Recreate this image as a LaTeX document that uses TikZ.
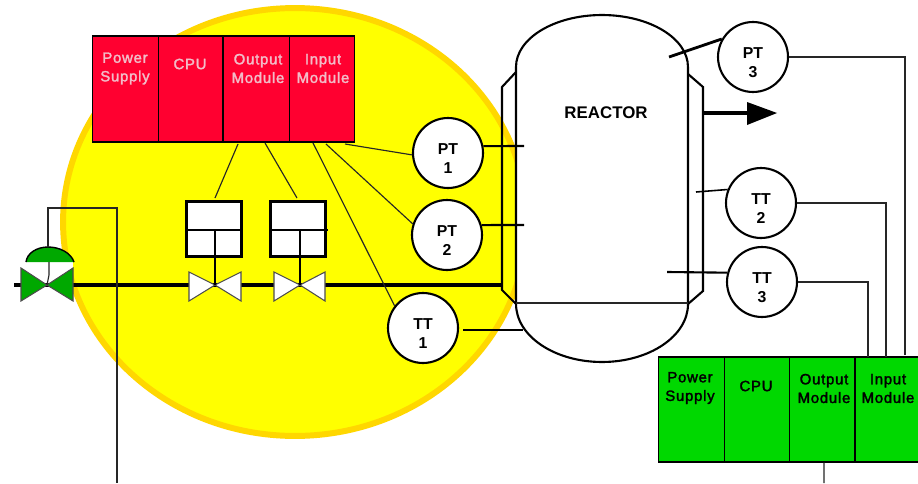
\documentclass[tikz,border=0pt]{standalone}
\usepackage{fontspec}
\usepackage{xcolor}
\usetikzlibrary{calc}
\setmainfont{Liberation Sans}
\newfontfamily\modfont[LetterSpace=5,FakeBold=2]{Liberation Sans}
\definecolor{plcred}{HTML}{FF0030}
\definecolor{plcgreen}{HTML}{00D800}
\definecolor{valvegreen}{HTML}{00A800}
\definecolor{halo}{HTML}{FFD700}
\definecolor{sunyellow}{HTML}{FFFF00}
\definecolor{pinktext}{HTML}{F2BCC8}
\tikzset{
  thinline/.style={draw=black!85,line width=0.65pt},
  sensor/.style={draw=black,line width=1.2pt},
  pipe/.style={draw=black,line width=2.8pt},
  vessel/.style={draw=black,line width=1.2pt},
  instr/.style={circle,draw=black,fill=white,line width=1.2pt,minimum size=1.4cm,inner sep=0pt},
  instrtext/.style={align=center,inner sep=0pt,yshift=-3pt,font=\bfseries\fontsize{9}{10.8}\selectfont},
  redmod/.style={rectangle,draw=black,fill=plcred,line width=0.8pt,minimum width=1.31cm,minimum height=2.12cm},
  greenmod/.style={rectangle,draw=black,fill=plcgreen,line width=0.8pt,minimum width=1.31cm,minimum height=2.1cm},
  modtext/.style={align=center,inner sep=0pt,font=\modfont\fontsize{8.5}{10.6}\selectfont},
  ctlbox/.style={rectangle,draw=black,fill=white,line width=1.3pt,minimum width=1.1cm,minimum height=1.1cm},
  whitevalve/.style={draw=black!70,fill=white,line width=0.6pt},
  greenvalve/.style={draw=black!70,fill=valvegreen,line width=0.6pt}
}

\begin{document}
\begin{tikzpicture}[x=0.02cm,y=-0.02cm]
\useasboundingbox (0,0) rectangle (918,483);

\fill[white] (0,0) rectangle (918,483);
\draw[halo,fill=sunyellow,line width=3.4pt] (295,222) ellipse (4.64cm and 4.28cm);

% red controller
\node[redmod] (redps) at (125.5,89) {};
\node[redmod] (redcpu) at (191,89) {};
\node[redmod] (redout) at (256.5,89) {};
\node[redmod] (redin) at (322,89) {};
\draw[black,line width=1.2pt] (redout.north west) -- (redout.south west);
\node[modtext,text=pinktext] (redpstext) at (125,68.5) {Power\\Supply};
\node[modtext,text=pinktext] (redcputext) at (190,64) {CPU};
\node[modtext,text=pinktext] (redouttext) at (258,68.5) {Output\\Module};
\node[modtext,text=pinktext] (redintext) at (323,68.5) {Input\\Module};

% main pipe
\coordinate (pipein) at (14,285);
\coordinate (pipeout) at (503,285);
\draw[pipe] (pipein) -- (pipeout);

% control valve on the left
\coordinate (gv) at (47,285);
\fill[white] (26,262) rectangle (73,272);
\draw[greenvalve] (21,268) -- (gv) -- (21,301) -- cycle;
\draw[greenvalve] (73,268) -- (gv) -- (73,301) -- cycle;
\draw[black,fill=valvegreen,line width=0.8pt] (26,262) .. controls (27,253) and (37,247) .. (48,247) .. controls (60,247) and (71,253) .. (74,262);
\draw[thinline] (49,262) -- (49,275) -- (gv);
\coordinate (gvtop) at (48,247);
\coordinate (gvout) at (117,483);
\draw[thinline] (gvtop) -- (48,208) -- (117,208) -- (gvout);

% on/off valves
\node[ctlbox] (vbox1) at (214,229) {};
\node[ctlbox] (vbox2) at (298,229) {};
\coordinate (v1) at (215,285);
\coordinate (v2) at (300,285);
\draw[line width=1.3pt] (186,230) -- (243,230);
\draw[line width=1.3pt] (270,230) -- (328,230);
\draw[whitevalve] (189,272) -- (v1) -- (189,301) -- cycle;
\draw[whitevalve] (241,272) -- (v1) -- (241,301) -- cycle;
\draw[whitevalve] (274,272) -- (v2) -- (274,301) -- cycle;
\draw[whitevalve] (325,272) -- (v2) -- (325,301) -- cycle;
\draw[line width=1.3pt] (215,230) -- (v1);
\draw[line width=1.3pt] (300,230) -- (v2);

% reactor
\draw[vessel] (516,72) -- (502,87) -- (502,290) -- (516,304);
\draw[vessel] (688,74) -- (703,87) -- (703,291) -- (688,304);
\draw[vessel,fill=white] (516,67) arc[start angle=180,end angle=0,x radius=1.72cm,y radius=1.04cm] -- (688,304) arc[start angle=0,end angle=-180,x radius=1.72cm,y radius=1.16cm] -- cycle;
\draw[thinline] (516,303) -- (688,303);
\node[inner sep=0pt,font=\bfseries\fontsize{9.6}{11}\selectfont] (reactor) at (606,113) {REACTOR};

% outlet
\coordinate (outlet) at (703,113);
\coordinate (outtip) at (748,113);
\draw[pipe] (outlet) -- (outtip);
\fill[black] (747,102) -- (777,113) -- (747,125) -- cycle;

% instruments
\node[instr,label={[instrtext]center:{PT\\1}}] (pt1) at (448,153) {};
\node[instr,label={[instrtext]center:{PT\\2}}] (pt2) at (447,235) {};
\node[instr,label={[instrtext]center:{TT\\1}}] (tt1) at (423,328) {};
\node[instr,label={[instrtext]center:{PT\\3}}] (pt3) at (753,57) {};
\node[instr,label={[instrtext]center:{TT\\2}}] (tt2) at (761,203) {};
\node[instr,label={[instrtext]center:{TT\\3}}] (tt3) at (762,282) {};

\coordinate (pt1tip) at (524,146);
\coordinate (pt2tip) at (524,225);
\coordinate (tt1tip) at (523,330);
\coordinate (pt3tip) at (669,57);
\coordinate (tt2tip) at (696,192);
\coordinate (tt3tip) at (667,272);
\draw[sensor] (pt1.11) -- (pt1tip);
\draw[sensor] (pt2.16) -- (pt2tip);
\draw[sensor] ($(tt1.east)+(4,2)$) -- (tt1tip);
\draw[sensor,line width=1.6pt] (pt3.150) -- (pt3tip);
\draw[sensor,line width=0.9pt] (tt2.158) -- (tt2tip);
\draw[sensor] (tt3.165) -- (tt3tip);

% red controller wiring
\coordinate (redw1) at (238,144);
\coordinate (redw2) at (265,143);
\coordinate (redw3) at (313,143);
\coordinate (redw4) at (326,144);
\coordinate (redw5) at (345,144);
\coordinate (vbox1w) at (215,198);
\coordinate (vbox2w) at (297,198);
\draw[thinline] (redw1) -- (vbox1w);
\draw[thinline] (redw2) -- (vbox2w);
\draw[thinline] (redw3) -- (tt1.142);
\draw[thinline] (redw4) -- (pt2.162);
\draw[thinline] (redw5) -- (pt1.183);

% green controller
\node[greenmod] (grnps) at (691.5,409.5) {};
\node[greenmod] (grncpu) at (757,409.5) {};
\node[greenmod] (grnout) at (822.5,409.5) {};
\node[greenmod] (grnin) at (888,409.5) {};
\draw[black,line width=1.2pt] (grnin.north west) -- (grnin.south west);
\node[modtext] (grnpstext) at (690,388) {Power\\Supply};
\node[modtext] (grncputext) at (756,386) {CPU};
\node[modtext] (grnouttext) at (824,388.5) {Output\\Module};
\node[modtext] (grnintext) at (888,388.5) {Input\\Module};

% green controller wiring
\coordinate (grnoutw) at (824,483);
\draw[thinline] (grnout.south) ++(1.5,0) -- (grnoutw);
\draw[thinline] (tt3.east) -- (868,282) -- (868,357);
\draw[thinline] (tt2.east) -- (886,203) -- (886,357);
\draw[thinline] (pt3.east) -- (905,57) -- (905,355);
\end{tikzpicture}
\end{document}
